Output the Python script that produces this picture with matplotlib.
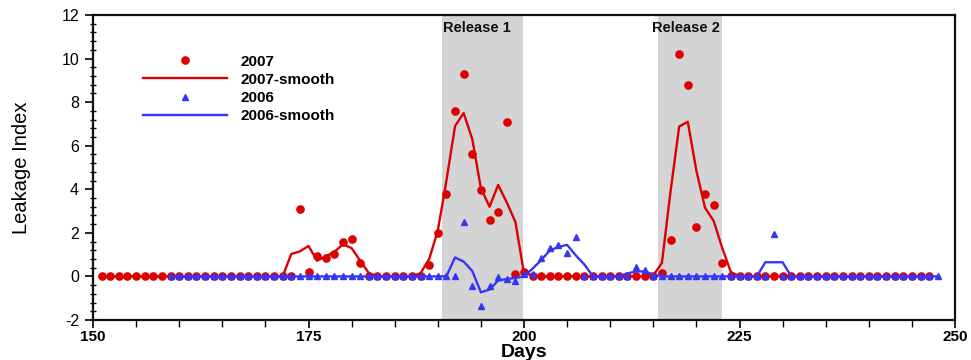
import matplotlib
matplotlib.use("Agg")
import matplotlib.pyplot as plt
from matplotlib.ticker import MultipleLocator

plt.rcParams['font.family'] = ['Liberation Sans', 'DejaVu Sans']
plt.rcParams['axes.unicode_minus'] = False

# ---------------- data ----------------
days_2007 = list(range(151, 248))
vals_2007 = [
    0, 0, 0, 0, 0, 0, 0, 0, 0, 0,            # 151-160
    0, 0, 0, 0, 0, 0, 0, 0, 0, 0,            # 161-170
    0, 0, 0, 3.1, 0.2, 0.95, 0.85, 1.04, 1.58, 1.71,   # 171-180
    0.61, 0, 0, 0, 0, 0, 0, 0, 0.54, 1.99,   # 181-190
    3.8, 7.59, 9.3, 5.63, 3.96, 2.59, 2.97, 7.1, 0.12, 0.2,  # 191-200
    0, 0, 0, 0, 0, 0, 0, 0, 0, 0,            # 201-210
    0, 0, 0, 0, 0, 0.15, 1.67, 10.2, 8.79, 2.25,  # 211-220
    3.79, 3.29, 0.61, 0, 0, 0, 0, 0, 0, 0,   # 221-230
    0, 0, 0, 0, 0, 0, 0, 0, 0, 0,            # 231-240
    0, 0, 0, 0, 0, 0, 0,                     # 241-247
]
smooth_2007 = [
    0, 0, 0, 0, 0, 0, 0, 0, 0, 0,            # 151-160
    0, 0, 0, 0, 0, 0, 0, 0, 0, 0,            # 161-170
    0, 0, 1.03, 1.15, 1.4, 0.72, 0.92, 1.13, 1.47, 1.3,  # 171-180
    0.72, 0.15, 0, 0, 0, 0, 0, 0.15, 0.8, 2.1,   # 181-190
    4.4, 6.9, 7.5, 6.3, 4.05, 3.2, 4.2, 3.4, 2.5, 0.15,  # 191-200
    0.05, 0, 0, 0, 0, 0, 0, 0, 0, 0,         # 201-210
    0, 0, 0, 0, 0.05, 0.62, 3.9, 6.88, 7.1, 4.85,  # 211-220
    3.15, 2.55, 1.3, 0.2, 0, 0, 0, 0, 0, 0,  # 221-230
    0, 0, 0, 0, 0, 0, 0, 0, 0, 0,            # 231-240
    0, 0, 0, 0, 0, 0, 0,                     # 241-247
]

days_2006 = list(range(159, 249))
vals_2006 = [
    0, 0,                                    # 159-160
    0, 0, 0, 0, 0, 0, 0, 0, 0, 0,            # 161-170
    0, 0, 0, 0, 0, 0, 0, 0, 0, 0,            # 171-180
    0, 0, 0, 0, 0, 0, 0, 0, 0, 0,            # 181-190
    0, 0.03, 2.52, -0.43, -1.34, -0.43, -0.03, -0.1, -0.23, 0.12,  # 191-200
    0.12, 0.84, 1.3, 1.45, 1.07, 1.83, 0, 0, 0, 0,   # 201-210
    0, 0, 0.41, 0.28, 0, 0, 0, 0, 0, 0,      # 211-220
    0, 0, 0, 0, 0, 0, 0, 0, 1.94, 0,         # 221-230
    0, 0, 0, 0, 0, 0, 0, 0, 0, 0,            # 231-240
    0, 0, 0, 0, 0, 0, 0, 0,                  # 241-248
]
smooth_2006 = [
    0, 0,                                    # 159-160
    0, 0, 0, 0, 0, 0, 0, 0, 0, 0,            # 161-170
    0, 0, 0, 0, 0, 0, 0, 0, 0, 0,            # 171-180
    0, 0, 0, 0, 0, 0, 0, 0, 0, 0,            # 181-190
    0.01, 0.87, 0.68, 0.25, -0.73, -0.6, -0.19, -0.12, -0.07, 0.0,  # 191-200
    0.36, 0.75, 1.2, 1.35, 1.45, 0.97, 0.55, 0, 0, 0,   # 201-210
    0, 0.14, 0.23, 0.23, 0.09, 0, 0, 0, 0, 0,   # 211-220
    0, 0, 0, 0, 0, 0, 0, 0.65, 0.65, 0.65,   # 221-230
    0, 0, 0, 0, 0, 0, 0, 0, 0, 0,            # 231-240
    0, 0, 0, 0, 0, 0, 0, 0,                  # 241-248
]

release_spans = [(190.5, 199.9), (215.6, 223.0)]
release_labels = ["Release 1", "Release 2"]
release_label_x = [194.5, 218.8]

x_ticks = [150, 175, 200, 225, 250]
y_ticks = [-2, 0, 2, 4, 6, 8, 10, 12]

RED = '#dd0000'
BLUE = '#3535f5'

# ---------------- figure ----------------
fig = plt.figure(figsize=(9.71, 3.60), dpi=100)
ax = fig.add_axes([93 / 971, 40 / 360, (955 - 93) / 971, (320 - 15) / 360])

for (a, b) in release_spans:
    ax.axvspan(a, b, color='#d4d4d4', lw=0, zorder=0)
for lab, lx in zip(release_labels, release_label_x):
    ax.text(lx, 11.4, lab, ha='center', va='center', fontsize=10.5,
            fontweight='bold', color='#111111', zorder=5)

ax.plot(days_2007, vals_2007, 'o', color=RED, ms=5.2, mec=RED, lw=0,
        label='2007', zorder=2)
ax.plot(days_2007, smooth_2007, '-', color=RED, lw=1.7,
        label='2007-smooth', zorder=3)
ax.plot(days_2006, vals_2006, '^', color=BLUE, ms=4.8, mec=BLUE, lw=0,
        label='2006', zorder=4)
ax.plot(days_2006, smooth_2006, '-', color=BLUE, lw=1.7,
        label='2006-smooth', zorder=4)

ax.set_xlim(150, 250)
ax.set_ylim(-2, 12)
ax.set_xticks(x_ticks)
ax.set_yticks(y_ticks)
ax.xaxis.set_minor_locator(MultipleLocator(5))
ax.yaxis.set_minor_locator(MultipleLocator(0.4))

ax.tick_params(axis='x', which='major', direction='out', length=6, width=1.2,
               labelsize=11, pad=1)
ax.tick_params(axis='x', which='minor', direction='out', length=5, width=1)
ax.tick_params(axis='y', which='major', direction='out', length=6, width=1.2,
               labelsize=11.5, pad=4)
ax.tick_params(axis='y', which='minor', direction='inout', length=5, width=1)
for lab in ax.get_xticklabels():
    lab.set_fontweight('bold')

for s in ax.spines.values():
    s.set_linewidth(1.6)
    s.set_color('#111111')

ax.set_xlabel('Days', fontsize=14, fontweight='bold', labelpad=0)
ax.set_ylabel('Leakage Index', fontsize=14.5, labelpad=22)

leg = ax.legend(loc='upper left', bbox_to_anchor=(0.051, 0.89), frameon=False,
                fontsize=11, handlelength=5.5, handletextpad=0.9,
                labelspacing=0.27, borderaxespad=0)
for t in leg.get_texts():
    t.set_fontweight('bold')

fig.savefig('out.png', dpi=100)
